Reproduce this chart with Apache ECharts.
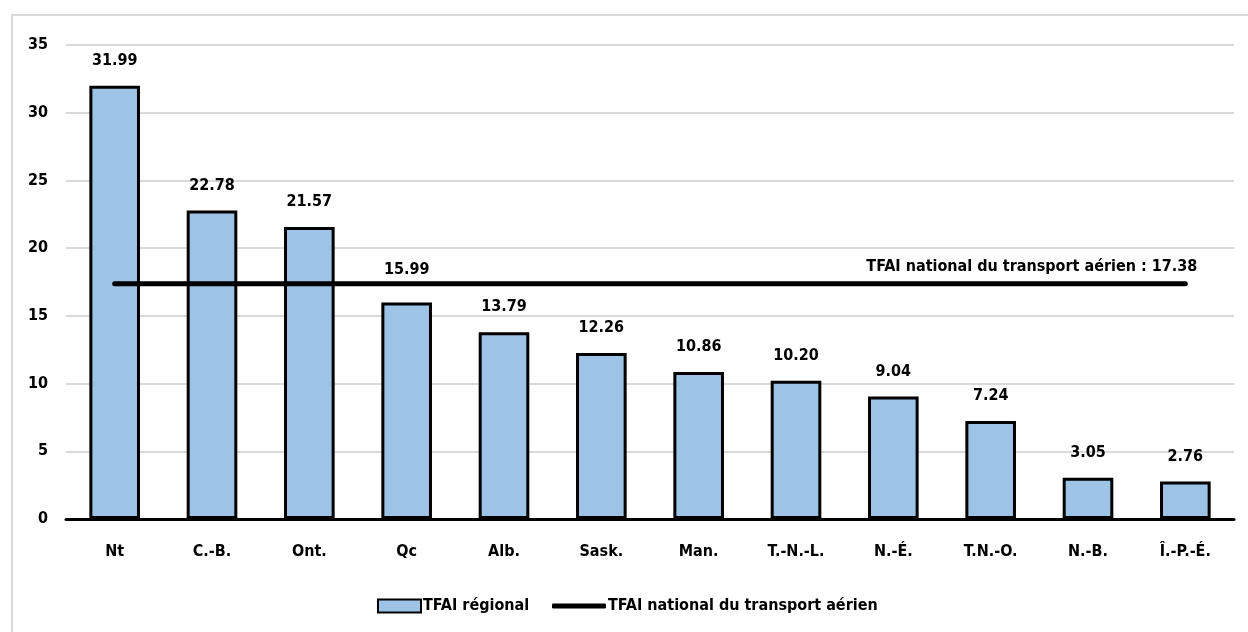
<!DOCTYPE html>
<html>
<head>
<meta charset="utf-8">
<script src="https://cdn.jsdelivr.net/npm/echarts@6/dist/echarts.min.js"></script>
<style>
  html, body { margin: 0; padding: 0; background: #fff; }
  #chart { width: 1248px; height: 632px; }
</style>
</head>
<body>
<div id="chart"></div>
<script>
// Provinces and territories, ordered by regional rate
const categories = ['Nt', 'C.-B.', 'Ont.', 'Qc', 'Alb.', 'Sask.', 'Man.', 'T.-N.-L.', 'N.-É.', 'T.N.-O.', 'N.-B.', 'Î.-P.-É.'];
const regionalRates = [31.99, 22.78, 21.57, 15.99, 13.79, 12.26, 10.86, 10.20, 9.04, 7.24, 3.05, 2.76];
const nationalRate = 17.38;
const yTicks = [0, 5, 10, 15, 20, 25, 30, 35];

const BAR_NAME = 'TFAI régional';
const LINE_NAME = 'TFAI national du transport aérien';
const FONT = "'DejaVu Sans Condensed', 'Liberation Sans Narrow', sans-serif";

const chart = echarts.init(document.getElementById('chart'), null, { renderer: 'canvas' });

// The Qc label sits a little higher so it clears the national line
const barData = regionalRates.map((v, i) => ({
  value: v,
  label: categories[i] === 'Qc' ? { distance: 25 } : undefined
}));

const nationalData = categories.map(() => nationalRate);

const legendText = { color: '#000', fontFamily: FONT, fontWeight: 'bold', fontSize: 16, padding: [0, 0, 0, -3] };

chart.setOption({
  animation: false,
  textStyle: { fontFamily: FONT },
  graphic: [{
    type: 'rect',
    shape: { x: 12, y: 15, width: 1300, height: 700 },
    style: { fill: 'none', stroke: '#d9d9d9', lineWidth: 2 },
    silent: true,
    z: -1
  }],
  grid: { left: 66, right: 14, top: 45, bottom: 113, containLabel: false },
  xAxis: {
    type: 'category',
    data: categories,
    axisLine: { lineStyle: { color: '#000', width: 3 } },
    axisTick: { show: false },
    axisLabel: { color: '#000', fontFamily: FONT, fontWeight: 'bold', fontSize: 16, margin: 25 }
  },
  yAxis: {
    type: 'value',
    min: yTicks[0],
    max: yTicks[yTicks.length - 1],
    interval: yTicks[1] - yTicks[0],
    axisLine: { show: false },
    axisTick: { show: false },
    splitLine: { lineStyle: { color: '#d9d9d9', width: 2 } },
    axisLabel: { color: '#000', fontFamily: FONT, fontWeight: 'bold', fontSize: 16, margin: 18 }
  },
  legend: [
    {
      top: 598,
      left: 377,
      padding: 0,
      itemWidth: 43,
      itemHeight: 13,
      textStyle: legendText,
      data: [{ name: BAR_NAME, icon: 'rect' }]
    },
    {
      top: 598,
      left: 552,
      padding: 0,
      itemWidth: 54,
      itemHeight: 5,
      textStyle: legendText,
      data: [{ name: LINE_NAME, icon: 'roundRect' }]
    }
  ],
  series: [
    {
      name: BAR_NAME,
      type: 'bar',
      data: barData,
      barWidth: '52%',
      itemStyle: { color: '#9dc3e6', borderColor: '#000', borderWidth: 3 },
      label: {
        show: true,
        position: 'top',
        distance: 17,
        color: '#000',
        fontFamily: FONT,
        fontWeight: 'bold',
        fontSize: 16,
        formatter: p => p.value.toFixed(2)
      },
      z: 2
    },
    {
      name: LINE_NAME,
      type: 'line',
      data: nationalData,
      symbol: 'none',
      lineStyle: { color: '#000', width: 5, cap: 'round' },
      itemStyle: { color: '#000' },
      endLabel: {
        show: true,
        align: 'right',
        verticalAlign: 'middle',
        distance: 0,
        offset: [12, -17],
        color: '#000',
        fontFamily: FONT,
        fontWeight: 'bold',
        fontSize: 16,
        formatter: () => LINE_NAME + ' : ' + nationalRate.toFixed(2)
      },
      z: 3
    }
  ]
});
</script>
</body>
</html>
